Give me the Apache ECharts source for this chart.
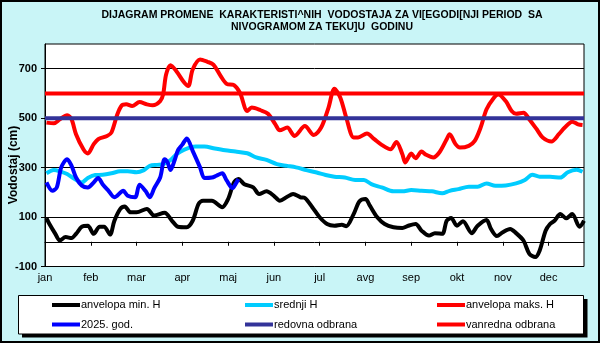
<!DOCTYPE html>
<html>
<head>
<meta charset="utf-8">
<script src="https://cdn.jsdelivr.net/npm/echarts@6/dist/echarts.min.js"></script>
<style>
html,body{margin:0;padding:0;background:#c9f5f7;}
#chart{width:600px;height:343px;}
</style>
</head>
<body>
<div id="chart"></div>
<script>
// ---- DATA ----
const titleLines = ['DIJAGRAM PROMENE  KARAKTERISTI^NIH  VODOSTAJA ZA VI[EGODI[NJI PERIOD  SA', 'NIVOGRAMOM ZA TEKU]U  GODINU'];
const yAxisTitle = 'Vodostaj (cm)';
const months = ['jan','feb','mar','apr','maj','jun','jul','avg','sep','okt','nov','dec'];
const monthTickDays = [0,31,62,93,124,155,186,217,248,279,310,341];
const yTicks = [-100,100,300,500,700];
const seriesNames = ['anvelopa min. H','srednji H','anvelopa maks. H','2025. god.','redovna odbrana','vanredna odbrana'];

// [day of year, water level cm]
const minH = [[1,96],[3,72],[7,32],[10,5],[14,19],[18,15],[21,32],[25,61],[29,65],[33,32],[37,61],[40,61],[44,29],[47,85],[51,133],[54,143],[58,119],[62,119],[69,133],[74,106],[81,117],[86,85],[90,61],[96,59],[100,85],[104,153],[107,166],[113,166],[120,140],[124,173],[128,240],[131,254],[135,233],[141,220],[145,193],[150,204],[155,186],[159,166],[164,182],[168,193],[173,180],[176,177],[181,140],[186,99],[191,72],[196,65],[201,69],[204,63],[209,112],[213,164],[217,173],[220,146],[225,99],[230,72],[236,59],[242,56],[246,65],[251,72],[255,45],[260,25],[264,35],[269,32],[272,85],[275,96],[279,65],[283,83],[289,35],[293,65],[299,88],[302,52],[306,23],[310,39],[315,52],[319,35],[324,5],[328,-49],[332,-62],[335,-35],[339,45],[342,72],[345,85],[349,112],[353,95],[357,112],[362,61],[365,85]];
const meanH = [[1,277],[6,290],[10,285],[15,274],[19,258],[25,240],[29,258],[34,270],[39,271],[45,277],[51,285],[56,285],[62,281],[67,290],[71,307],[76,311],[80,314],[85,330],[89,354],[94,372],[102,385],[108,385],[115,377],[122,370],[129,365],[137,358],[143,341],[150,331],[157,314],[164,307],[170,301],[177,290],[184,280],[190,270],[196,263],[203,260],[210,250],[216,250],[221,233],[228,220],[236,204],[242,204],[248,209],[255,206],[262,204],[269,196],[274,206],[280,213],[287,223],[293,223],[299,236],[305,227],[312,228],[319,236],[325,250],[330,271],[335,263],[342,263],[349,260],[354,281],[360,291],[364,283]];
const maxH = [[1,482],[6,479],[10,495],[15,512],[18,495],[21,435],[26,374],[29,357],[33,395],[36,415],[42,428],[45,442],[49,516],[52,552],[55,556],[59,549],[64,565],[69,556],[73,552],[78,569],[80,596],[82,677],[85,714],[89,690],[94,646],[97,630],[100,697],[105,737],[110,728],[114,717],[119,670],[123,639],[128,634],[132,603],[137,529],[140,543],[146,532],[151,518],[156,475],[159,451],[164,462],[169,428],[176,468],[182,432],[187,462],[192,543],[196,619],[200,583],[204,502],[209,422],[212,422],[218,438],[223,415],[228,392],[234,374],[238,404],[242,354],[244,321],[248,357],[251,338],[255,365],[258,352],[263,341],[267,361],[272,415],[274,435],[278,395],[281,381],[287,388],[291,408],[295,462],[299,536],[304,583],[307,596],[312,569],[316,529],[319,518],[324,522],[328,495],[333,455],[337,422],[343,406],[348,435],[352,462],[357,486],[361,475],[364,472]];
const year2025 = [[1,240],[5,206],[8,220],[11,301],[15,334],[18,307],[21,260],[25,227],[29,220],[33,240],[36,258],[39,233],[43,206],[47,180],[53,206],[56,186],[61,180],[64,231],[68,206],[71,180],[74,217],[78,260],[81,334],[83,321],[85,290],[88,334],[90,370],[93,393],[96,418],[100,368],[105,301],[108,258],[113,260],[116,267],[120,277],[123,248],[127,217],[129,233],[131,254]];
const redovnaLevel = 500;
const vanrednaLevel = 600;
const yearDays = [0, 365];

// ---- CHART ----
const chart = echarts.init(document.getElementById('chart'), null, {renderer: 'canvas'});
const FONT = 'Arial, "Liberation Sans", sans-serif';
const colors = ['#000000', '#00ccff', '#ff0000', '#0000ff', '#333399', '#ff0000'];
const seriesData = [minH, meanH, maxH, year2025,
  yearDays.map(d => [d, redovnaLevel]),
  yearDays.map(d => [d, vanrednaLevel])];

const legendPos = [[52,299],[245,299],[437,299],[52,318.5],[245,318.5],[437,318.5]];
const legends = seriesNames.map((n, i) => ({
  data: [n], left: legendPos[i][0], top: legendPos[i][1], padding: 0,
  icon: 'rect', itemWidth: 28, itemHeight: 4, itemGap: 0,
  textStyle: {fontFamily: FONT, fontSize: 11, color: '#000', lineHeight: 12, padding: [0,0,0,-4]},
  selectedMode: false
}));

chart.setOption({
  animation: false,
  backgroundColor: '#c9f5f7',
  grid: {left: 45, right: 16, top: 44, bottom: 76.5, show: true, backgroundColor: '#ffffff', borderColor: '#000', borderWidth: 1, containLabel: false},
  legend: legends,
  graphic: [
    {type: 'rect', shape: {x: 1, y: 1, width: 598, height: 341}, style: {fill: 'none', stroke: '#000', lineWidth: 2}, silent: true, z: -1},
    {type: 'rect', shape: {x: 22, y: 299, width: 565.5, height: 38.5}, style: {fill: '#000'}, silent: true, z: -1},
    {type: 'rect', shape: {x: 18.5, y: 295.5, width: 565, height: 38.5}, style: {fill: '#fff', stroke: '#000', lineWidth: 1}, silent: true, z: -1},
    {type: 'text', x: 322, y: 9, style: {text: titleLines.join('\n'), font: 'bold 10.5px ' + FONT, fill: '#000', align: 'center', verticalAlign: 'top', lineHeight: 12}, silent: true},
    {type: 'text', x: 14, y: 165, rotation: Math.PI / 2, style: {text: yAxisTitle, font: 'bold 12px ' + FONT, fill: '#000', align: 'center', verticalAlign: 'middle'}, silent: true}
  ],
  xAxis: {
    type: 'value', min: 0, max: 365,
    axisLine: {show: true, lineStyle: {color: '#000', width: 1}},
    axisTick: {show: true, length: 4, customValues: monthTickDays, lineStyle: {color: '#000'}},
    axisLabel: {customValues: monthTickDays, formatter: v => months[monthTickDays.indexOf(v)] || '', fontFamily: FONT, fontSize: 11, color: '#000', margin: 6},
    splitLine: {show: false}
  },
  yAxis: {
    type: 'value', min: -100, max: 800,
    axisLine: {show: true, lineStyle: {color: '#000', width: 1}},
    axisTick: {show: true, length: 4, customValues: yTicks, lineStyle: {color: '#000'}},
    axisLabel: {customValues: yTicks, fontFamily: FONT, fontSize: 11, fontWeight: 'bold', color: '#000', margin: 8},
    splitLine: {show: true, lineStyle: {color: '#000', width: 1}}
  },
  series: seriesNames.map((n, i) => ({
    name: n, type: 'line', data: seriesData[i], showSymbol: false, symbol: 'none',
    smooth: i < 4 ? 0.3 : false,
    color: colors[i],
    lineStyle: {color: colors[i], width: 4},
    z: 2 + i
  }))
});
</script>
</body>
</html>
